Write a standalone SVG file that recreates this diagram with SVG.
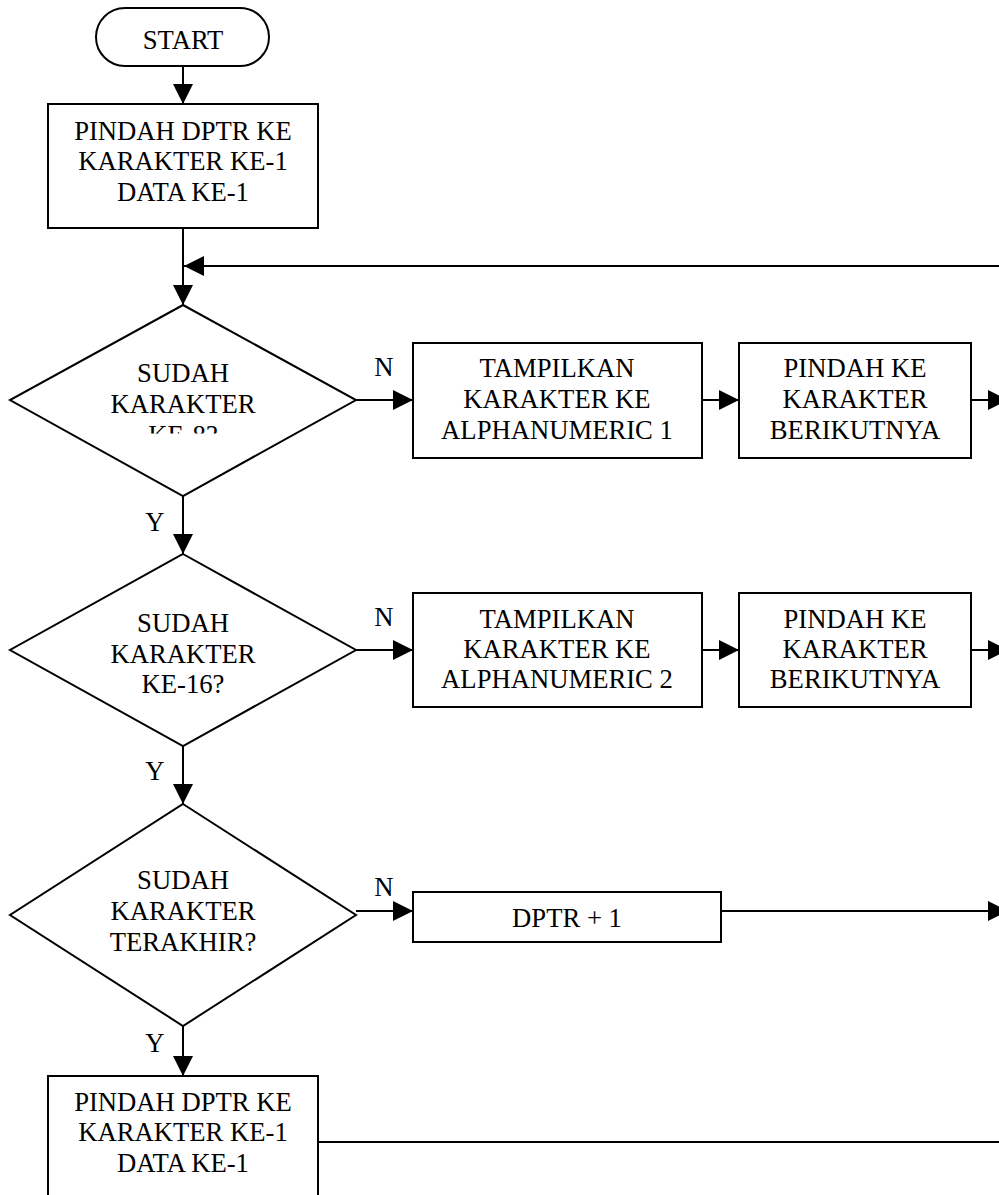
<svg xmlns="http://www.w3.org/2000/svg" width="999" height="1195" viewBox="0 0 999 1195" font-family="'Liberation Serif', 'Times New Roman', 'DejaVu Serif', serif">
<style>
.s{fill:#fff;stroke:#000;stroke-width:2}
.t{font-size:26.67px;fill:#000;text-anchor:middle}
.c{fill:none;stroke:#000;stroke-width:2}
</style>
<defs>
<marker id="ah" markerUnits="userSpaceOnUse" markerWidth="20" markerHeight="20" refX="20" refY="10" orient="auto">
<path d="M0,0 L20,10 L0,20 z" fill="#000"/>
</marker>
<clipPath id="clipD1"><rect x="0" y="300" width="400" height="133.5"/></clipPath>
</defs>
<rect width="999" height="1195" fill="#fff"/>
<g id="connectors">
<path class="c" d="M183,66 V104" marker-end="url(#ah)"/>
<path class="c" d="M183,228 V305" marker-end="url(#ah)"/>
<path class="c" d="M999,266 H184" marker-end="url(#ah)"/>
<path class="c" d="M356,400 H413" marker-end="url(#ah)"/>
<path class="c" d="M702,400 H739" marker-end="url(#ah)"/>
<path class="c" d="M971,400 H1008" marker-end="url(#ah)"/>
<path class="c" d="M183,496 V554" marker-end="url(#ah)"/>
<path class="c" d="M356,650 H413" marker-end="url(#ah)"/>
<path class="c" d="M702,650 H739" marker-end="url(#ah)"/>
<path class="c" d="M971,650 H1008" marker-end="url(#ah)"/>
<path class="c" d="M183,746 V804" marker-end="url(#ah)"/>
<path class="c" d="M356,911 H413" marker-end="url(#ah)"/>
<path class="c" d="M721,911 H1008" marker-end="url(#ah)"/>
<path class="c" d="M183,1026 V1076" marker-end="url(#ah)"/>
<path class="c" d="M318,1142 H999"/>
<text class="t" x="384" y="376">N</text>
<text class="t" x="155" y="531">Y</text>
<text class="t" x="384" y="626">N</text>
<text class="t" x="155" y="780">Y</text>
<text class="t" x="384" y="896">N</text>
<text class="t" x="155" y="1052">Y</text>
</g>
<g id="start">
<rect class="s" x="96" y="8" width="173" height="58" rx="29" ry="29"/>
<text class="t" x="183" y="49">START</text>
</g>
<g id="init1">
<rect class="s" x="48" y="104" width="270" height="124"/>
<text class="t" x="183" y="140">PINDAH DPTR KE</text>
<text class="t" x="183" y="170">KARAKTER KE-1</text>
<text class="t" x="183" y="201">DATA KE-1</text>
</g>
<g id="dec1">
<polygon class="s" points="183,305 356,400 183,496 10,400"/>
<text class="t" x="183" y="382">SUDAH</text>
<text class="t" x="183" y="413">KARAKTER</text>
<text class="t" x="183" y="444" clip-path="url(#clipD1)">KE-8?</text>
</g>
<g id="show1">
<rect class="s" x="413" y="343" width="289" height="115"/>
<text class="t" x="557" y="377">TAMPILKAN</text>
<text class="t" x="557" y="408">KARAKTER KE</text>
<text class="t" x="557" y="439">ALPHANUMERIC 1</text>
</g>
<g id="next1">
<rect class="s" x="739" y="343" width="232" height="115"/>
<text class="t" x="855" y="377">PINDAH KE</text>
<text class="t" x="855" y="408">KARAKTER</text>
<text class="t" x="855" y="439">BERIKUTNYA</text>
</g>
<g id="dec2">
<polygon class="s" points="183,554 356,650 183,746 10,650"/>
<text class="t" x="183" y="632">SUDAH</text>
<text class="t" x="183" y="663">KARAKTER</text>
<text class="t" x="183" y="693">KE-16?</text>
</g>
<g id="show2">
<rect class="s" x="413" y="593" width="289" height="114"/>
<text class="t" x="557" y="628">TAMPILKAN</text>
<text class="t" x="557" y="658">KARAKTER KE</text>
<text class="t" x="557" y="688">ALPHANUMERIC 2</text>
</g>
<g id="next2">
<rect class="s" x="739" y="593" width="232" height="114"/>
<text class="t" x="855" y="628">PINDAH KE</text>
<text class="t" x="855" y="658">KARAKTER</text>
<text class="t" x="855" y="688">BERIKUTNYA</text>
</g>
<g id="dec3">
<polygon class="s" points="183,804 356,915 183,1026 10,915"/>
<text class="t" x="183" y="889">SUDAH</text>
<text class="t" x="183" y="920">KARAKTER</text>
<text class="t" x="183" y="951">TERAKHIR?</text>
</g>
<g id="inc">
<rect class="s" x="413" y="892" width="308" height="50"/>
<text class="t" x="567" y="927">DPTR + 1</text>
</g>
<g id="init2">
<rect class="s" x="48" y="1076" width="270" height="130"/>
<text class="t" x="183" y="1111">PINDAH DPTR KE</text>
<text class="t" x="183" y="1141">KARAKTER KE-1</text>
<text class="t" x="183" y="1172">DATA KE-1</text>
</g>
</svg>
